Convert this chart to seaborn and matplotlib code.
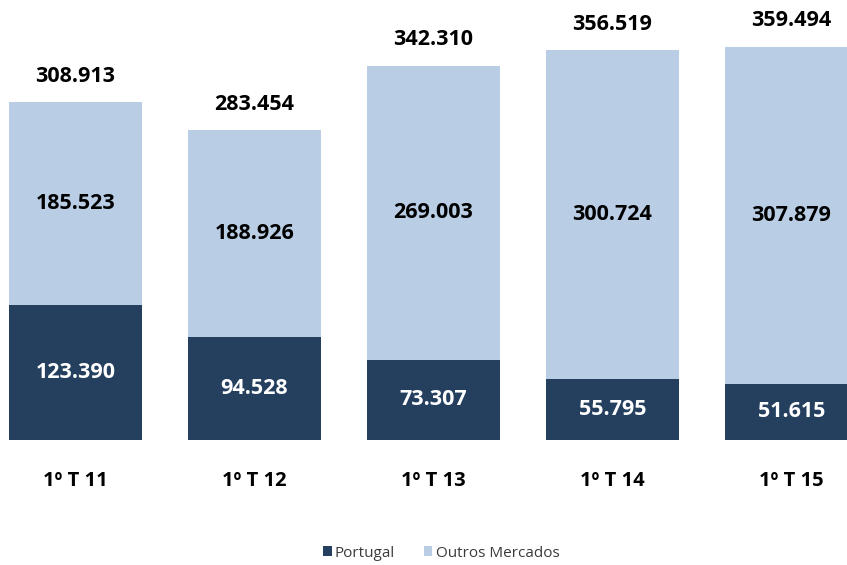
import matplotlib
matplotlib.use("Agg")
import matplotlib.pyplot as plt
from matplotlib.patches import Patch
import seaborn as sns
import pandas as pd

# Quarterly values by market
periods = ["1º T 11", "1º T 12", "1º T 13", "1º T 14", "1º T 15"]
portugal = [123390, 94528, 73307, 55795, 51615]
outros_mercados = [185523, 188926, 269003, 300724, 307879]
series_names = ["Portugal", "Outros Mercados"]

dark_blue = "#253F5F"
light_blue = "#B9CDE4"

df = pd.DataFrame({
    "periodo": periods,
    "Portugal": portugal,
    "Outros Mercados": outros_mercados,
})
df["Total"] = df["Portugal"] + df["Outros Mercados"]


def fmt(v):
    return f"{v:,}".replace(",", ".")


sns.set_theme(style="white")
plt.rcParams["font.family"] = ["Open Sans", "DejaVu Sans"]

fig = plt.figure(figsize=(8.47, 5.65), dpi=100)
ax = fig.add_axes([0, 125 / 565, 1, 440 / 565])

# Stack: full totals in light blue, Portugal drawn over the base in dark blue
sns.barplot(data=df, x="periodo", y="Total", order=periods, color=light_blue,
            width=0.743, saturation=1, linewidth=0, ax=ax)
sns.barplot(data=df, x="periodo", y="Portugal", order=periods, color=dark_blue,
            width=0.743, saturation=1, linewidth=0, ax=ax)

ax.set_xlim(-0.4218, 4.310)
ax.set_ylim(0, 402200)
ax.axis("off")

lab = dict(fontsize=15.5, fontweight="bold")
for i, row in df.iterrows():
    p, o, t = row["Portugal"], row["Outros Mercados"], row["Total"]
    ax.text(i, p / 2, fmt(p), ha="center", va="center", color="white", **lab)
    ax.text(i, p + o / 2, fmt(o), ha="center", va="center", color="black", **lab)
    ax.annotate(fmt(t), (i, t), xytext=(0, 11), textcoords="offset points",
                ha="center", va="bottom", color="black", **lab)
    ax.annotate(row["periodo"], (i, 0), xytext=(0, -37), textcoords="offset points",
                ha="center", va="bottom", color="black", annotation_clip=False,
                fontsize=14.5, fontweight="bold")

handles = [Patch(facecolor=dark_blue, edgecolor="none"),
           Patch(facecolor=light_blue, edgecolor="none")]
fig.legend(handles, series_names, loc="center", bbox_to_anchor=(0.521, 0.021),
           ncol=2, frameon=False, fontsize=11, handlelength=0.55, handleheight=0.6,
           handletextpad=0.2, columnspacing=1.9, labelcolor="#3a3a3a")

fig.savefig("out.png", dpi=100)
